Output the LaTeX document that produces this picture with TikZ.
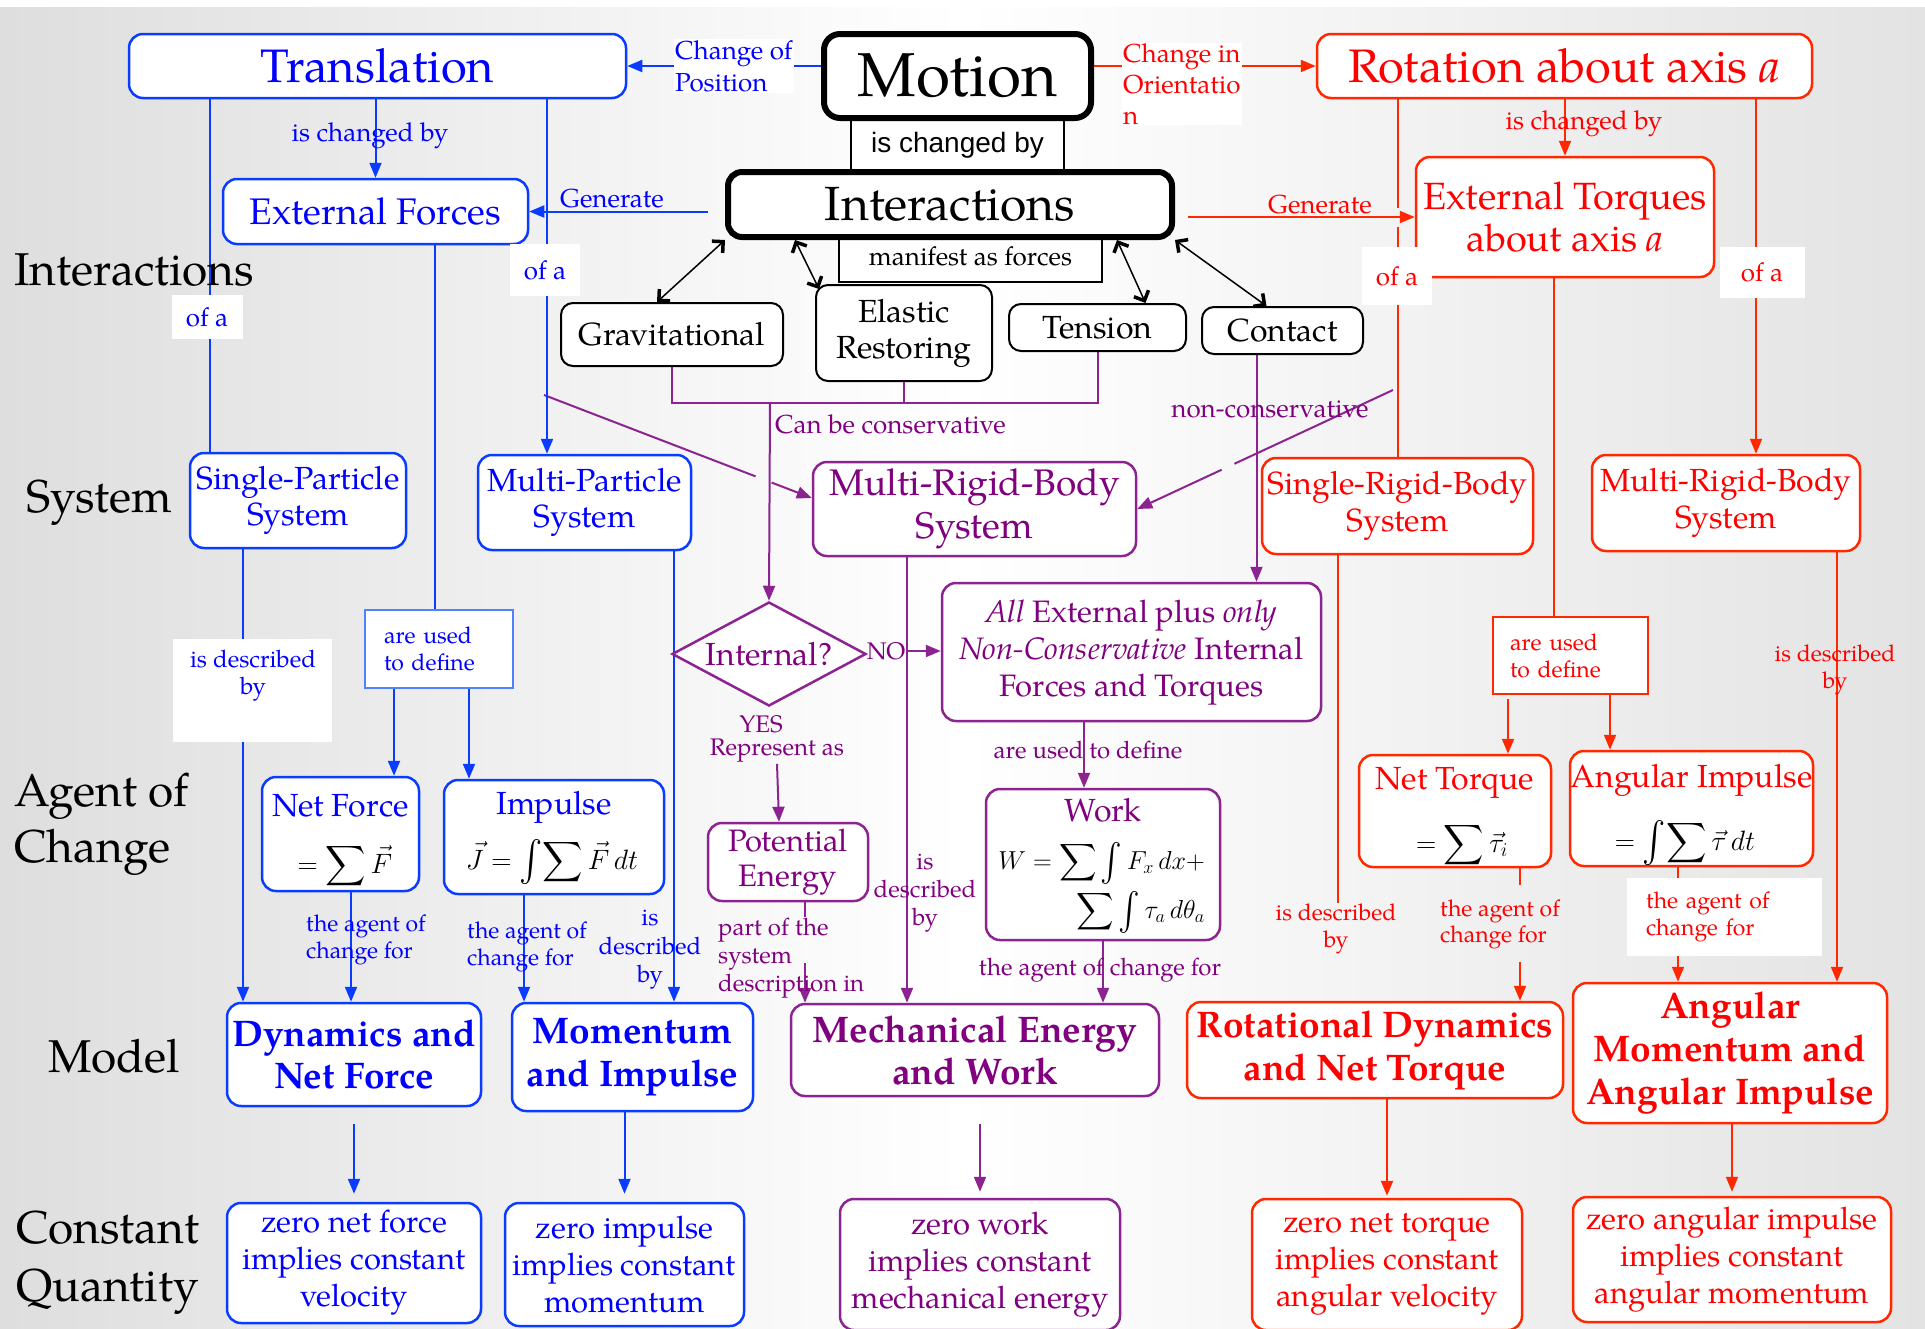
\RequirePackage{fix-cm}
\documentclass[tikz,border=0pt]{standalone}
\usepackage{amsmath}
\usepackage{graphicx}
\usepackage{fontspec}
\setmainfont{texgyrepagella}[Extension=.otf,UprightFont=*-regular,BoldFont=*-bold,ItalicFont=*-italic,BoldItalicFont=*-bolditalic]
\newfontfamily\arialf{Liberation Sans}
\usetikzlibrary{arrows.meta,shapes.geometric,calc}
\DeclareFontShape{OMX}{cmex}{m}{n}{<->cmex10}{}
\definecolor{bT}{RGB}{0,0,255}
\definecolor{bL}{RGB}{10,60,255}
\definecolor{bLL}{RGB}{80,130,255}
\definecolor{rT}{RGB}{255,0,0}
\definecolor{rL}{RGB}{255,40,0}
\definecolor{pT}{RGB}{128,0,128}
\definecolor{pL}{RGB}{140,35,145}
\newcommand{\fsz}[2]{\fontsize{#1}{#2}\selectfont}
\newcommand{\bint}{\mathop{\vcenter{\hbox{\scalebox{1.25}[1.45]{$\textstyle\int$}}}}\nolimits}
\pgfdeclarelayer{back}
\pgfdeclarelayer{lines}
\pgfsetlayers{back,lines,main}
\begin{document}
\begin{tikzpicture}[x=1pt,y=-1pt,
  box/.style={draw, rounded corners=14pt, line width=2.5pt, fill=white, align=center, inner sep=0pt},
  bluebox/.style={box, draw=bL, text=bT},
  redbox/.style={box, draw=rL, text=rT},
  purplebox/.style={box, draw=pL, text=pT},
  blackbox/.style={box, draw=black, text=black},
  sz/.style 2 args={minimum width=#1, minimum height=#2},
  lab/.style={inner sep=1pt, align=center},
  arr/.style={-{Triangle[length=15pt,width=12pt]}},
  bline/.style={draw=bL, line width=2pt},
  rline/.style={draw=rL, line width=2pt},
  pline/.style={draw=pL, line width=2pt},
  dbl/.style={draw=black, line width=1.5pt, {Straight Barb[length=8pt,width=16pt,line width=3.5pt]}-{Straight Barb[length=8pt,width=16pt,line width=3.5pt]}}
]
\useasboundingbox (0,0) rectangle (1925,1328);
\begin{pgfonlayer}{back}
\fill[white] (0,0) rectangle (1925,1328);
\shade[left color=black!13, right color=black!11, middle color=white] (0,7) rectangle (1925,1328);
\end{pgfonlayer}

% ---------- row labels
\node[lab, anchor=west, font=\fsz{46}{56}] (rlInt) at (13,270) {Interactions};
\node[lab, anchor=west, font=\fsz{46}{56}] (rlSys) at (25,503) {System};
\node[lab, anchor=west, align=left, font=\fsz{46}{56}] (rlAg) at (13,824) {Agent of\\Change};
\node[lab, anchor=west, font=\fsz{46}{56}] (rlMod) at (47,1056) {Model};
\node[lab, anchor=west, align=left, font=\fsz{46}{58}] (rlCQ) at (15,1263) {Constant\\Quantity};

% ---------- top
\node[draw, line width=1.5pt, fill=white, sz={213}{54}, inner sep=0pt, font=\arialf\fsz{28}{32}] (mcb) at (957.5,145) {is changed by};
\node[draw, line width=1.8pt, fill=white, sz={263}{51}, inner sep=0pt, font=\fsz{26}{30}] (manif) at (970.5,256.5) {manifest as forces};
\node[blackbox, line width=6pt, rounded corners=16pt, sz={267}{84}, font=\fsz{62}{70}] (Motion) at (957.5,76) {Motion};
\node[blackbox, line width=6pt, rounded corners=14pt, sz={444}{65}, font=\fsz{48}{54}] (Inter) at (950,204.5) {Interactions};
\node[bluebox, sz={497}{64}, font=\fsz{47}{52}] (Trans) at (377.5,66) {Translation};
\node[redbox, sz={495}{64}, font=\fsz{47}{52}] (RotAx) at (1564.5,66) {Rotation about axis \textit{a}};
\node[lab, fill=white, text=bT, align=left, anchor=west, font=\fsz{26}{32}] (chPos) at (674,66) {Change of\\Position};
\node[lab, fill=white, text=rT, align=left, anchor=west, font=\fsz{26}{31}] (chOr) at (1122,84) {Change in\\Orientatio\\n};

\node[bluebox, sz={305}{65}, font=\fsz{37}{42}] (ExtF) at (375.5,211.5) {External Forces};
\node[redbox, sz={298}{120}, font=\fsz{38}{42}] (ExtT) at (1565,217) {External Torques\\about axis \textit{a}};
\node[lab, text=bT, font=\fsz{26}{30}] (bchg) at (370,136) {is changed by};
\node[lab, text=rT, font=\fsz{26}{30}] (rchg) at (1584,124) {is changed by};
\node[lab, text=bT, font=\fsz{26}{30}] (genBl) at (612,199) {Generate};
\node[lab, text=rT, font=\fsz{26}{30}] (genRl) at (1320,205) {Generate};
\coordinate (genB) at (708,211.5);
\coordinate (genR) at (1188,217);

\node[lab, fill=white, text=bT, sz={71}{44}, font=\fsz{26}{30}] (ofa1) at (207,317) {of a};
\node[lab, fill=white, text=bT, sz={70}{52}, font=\fsz{26}{30}] (ofa2) at (545,270) {of a};
\node[lab, fill=white, text=rT, sz={70}{58}, font=\fsz{26}{30}] (ofa3) at (1397,276) {of a};
\node[lab, fill=white, text=rT, sz={85}{51}, font=\fsz{26}{30}] (ofa4) at (1762,272) {of a};

% ---------- interaction kinds
\node[blackbox, line width=2pt, rounded corners=12pt, sz={222}{63}, font=\fsz{32}{36}] (Grav) at (672,334.5) {Gravitational};
\node[blackbox, line width=2pt, rounded corners=12pt, sz={176}{96}, font=\fsz{32}{36}] (Elas) at (904,333) {Elastic\\Restoring};
\node[blackbox, line width=2pt, rounded corners=12pt, sz={177}{47}, font=\fsz{32}{36}] (Tens) at (1097.5,327.5) {Tension};
\node[blackbox, line width=2pt, rounded corners=12pt, sz={161}{47}, font=\fsz{32}{36}] (Cont) at (1282.5,330.5) {Contact};
\coordinate (brk) at (770,402);
\node[lab, text=pT, anchor=west, font=\fsz{26}{30}] (canbe) at (774,424) {Can be conservative};
\node[lab, text=pT, font=\fsz{26}{30}] (noncons) at (1270,409) {non-conservative};
\coordinate (dgR) at (1393,390);
\coordinate (dgL) at (544,395);

% ---------- systems
\node[bluebox, sz={216}{95}, font=\fsz{32}{36}] (SP) at (298,500.5) {Single-Particle\\System};
\node[bluebox, sz={213}{95}, font=\fsz{32}{36}] (MP) at (584.5,502.5) {Multi-Particle\\System};
\node[purplebox, sz={323}{94}, font=\fsz{37}{43}] (MRB) at (974.5,509) {Multi-Rigid-Body\\System};
\node[redbox, sz={271}{96}, font=\fsz{32}{37}] (SRB) at (1397.5,506) {Single-Rigid-Body\\System};
\node[redbox, sz={268}{96}, font=\fsz{32}{37}] (MRBr) at (1726,503) {Multi-Rigid-Body\\System};

% ---------- are used to define
\node[draw=bLL, line width=2pt, fill=white, sz={148}{78}, inner sep=0pt, text=bT, align=left, text width=110, font=\fsz{23}{27}] (AreB) at (439,649) {are used\\to define};
\node[draw=rL, line width=2pt, fill=white, sz={155}{77}, inner sep=0pt, text=rT, align=left, text width=121, font=\fsz{23}{27}] (AreR) at (1570.5,655.5) {are used\\to define};
\node[fill=white, sz={159}{103}] (descBbg) at (252,690) {};
\node[lab, text=bT, font=\fsz{24}{27}] (descB) at (253,676) {is described\\by};

% ---------- internal?
\node[diamond, draw=pL, line width=2.5pt, fill=white, aspect=1.87, sz={194}{104}, inner sep=0pt, text=pT, font=\fsz{32}{36}] (Intq) at (769,654) {Internal?};
\node[lab, text=pT, font=\fsz{24}{28}] (NO) at (886,651) {NO};
\node[lab, text=pT, font=\fsz{24}{28}] (YES) at (761,724) {YES};
\node[lab, text=pT, font=\fsz{24}{28}] (Rep) at (777,751) {Represent as};
\node[purplebox, sz={379}{138}, font=\fsz{31}{37}] (AllE) at (1131.5,652) {\textit{All} External plus \textit{only}\\\textit{Non-Conservative} Internal\\Forces and Torques};
\node[lab, text=pT, font=\fsz{24}{28}] (aredef) at (1088,750) {are used to define};

% ---------- agents of change
\node[bluebox, sz={157}{114}] (NF) at (340.5,834) {};
\node[lab, text=bT, font=\fsz{32}{36}] (NFt) at (340.5,806) {Net Force};
\node[lab, text=black, font=\fsz{28}{34}] (NFf) at (345,866) {$=\displaystyle\sum\vec F$};
\node[bluebox, sz={220}{114}] (Imp) at (554,837) {};
\node[lab, text=bT, font=\fsz{32}{36}] (Impt) at (554,807) {Impulse};
\node[lab, text=black, font=\fsz{28}{34}] (Impf) at (552,862) {$\vec J=\bint\!\displaystyle\sum\vec F\,dt$};
\node[purplebox, sz={160}{78}, font=\fsz{31}{35}] (PE) at (788,862) {Potential\\Energy};
\node[purplebox, sz={234}{151}] (Work) at (1103,864.5) {};
\node[lab, text=pT, font=\fsz{32}{36}] (WorkT) at (1103,810) {Work};
\node[lab, text=black, anchor=east, font=\fsz{26}{32}] (WorkF1) at (1206,863) {$W=\displaystyle\sum\bint F_x\,dx+$};
\node[lab, text=black, anchor=east, font=\fsz{26}{32}] (WorkF2) at (1206,912) {$\displaystyle\sum\bint\tau_a\,d\theta_a$};
\node[redbox, sz={192}{112}] (NT) at (1455,811) {};
\node[lab, text=rT, font=\fsz{32}{36}] (NTt) at (1455,783) {Net Torque};
\node[lab, text=black, font=\fsz{28}{34}] (NTf) at (1462,845) {$=\displaystyle\sum\vec\tau_i$};
\node[redbox, sz={243}{115}] (AI) at (1691.5,808.5) {};
\node[lab, text=rT, font=\fsz{32}{36}] (AIt) at (1691.5,780) {Angular Impulse};
\node[lab, text=black, font=\fsz{28}{34}] (AIf) at (1685,843) {$=\bint\!\displaystyle\sum\vec\tau\,dt$};

% ---------- link labels
\node[lab, text=bT, align=left, anchor=west, font=\fsz{23}{27}] (agB1) at (305,940) {the agent of\\change for};
\node[lab, text=bT, align=left, anchor=west, font=\fsz{23}{27}] (agB2) at (466,947) {the agent of\\change for};
\node[lab, text=bT, font=\fsz{24}{28.5}] (descB2) at (650,950) {is\\described\\by};
\node[lab, text=pT, font=\fsz{24}{28}] (descP) at (925,893) {is\\described\\by};
\node[lab, text=pT, align=left, anchor=west, font=\fsz{24}{28}] (partof) at (717,958) {part of the\\system\\description in};
\coordinate (pe2) at (805,963);
\node[lab, text=pT, font=\fsz{24}{28}] (agentP) at (1100,970) {the agent of change for};
\node[lab, text=rT, font=\fsz{23}{27}] (descR) at (1336,929) {is described\\by};
\node[lab, text=rT, align=left, anchor=west, font=\fsz{23}{26}] (agR1) at (1439,924) {the agent of\\change for};
\coordinate (agR1b) at (1520,962);
\node[lab, fill=white, text=rT, align=left, text width=157, minimum width=195, minimum height=78, font=\fsz{23}{27}] (agR2) at (1724.5,917) {the agent of\\change for};
\node[lab, text=rT, font=\fsz{23}{27}] (descR2) at (1835,670) {is described\\by};

% ---------- models
\node[bluebox, sz={254}{103}, font=\bfseries\fsz{37}{42}] (Dyn) at (354,1054.5) {Dynamics and\\Net Force};
\node[bluebox, sz={241}{108}, font=\bfseries\fsz{37}{43}] (Mom) at (632.5,1057) {Momentum\\and Impulse};
\node[purplebox, sz={368}{92}, font=\bfseries\fsz{37}{42}] (Mech) at (975,1050) {Mechanical Energy\\and Work};
\node[redbox, sz={376}{96}, font=\bfseries\fsz{37}{43}] (RotDyn) at (1375,1050) {Rotational Dynamics\\and Net Torque};
\node[redbox, sz={314}{140}, font=\bfseries\fsz{37}{43}] (AngMom) at (1730,1053) {Angular\\Momentum and\\Angular Impulse};

% ---------- constant quantities
\node[bluebox, sz={254}{120}, font=\fsz{31}{37}] (CDyn) at (354,1263) {zero net force\\implies constant\\velocity};
\node[bluebox, sz={239}{123}, font=\fsz{31}{37}] (CMom) at (624.5,1264.5) {zero impulse\\implies constant\\momentum};
\node[purplebox, sz={280}{131}, font=\fsz{31}{37}] (CMech) at (980,1264.5) {zero work\\implies constant\\mechanical energy};
\node[redbox, sz={270}{131}, font=\fsz{31}{37}] (CRot) at (1387,1264.5) {zero net torque\\implies constant\\angular velocity};
\node[redbox, sz={318}{125}, font=\fsz{31}{37}] (CAng) at (1732,1259.5) {zero angular impulse\\implies constant\\angular momentum};

% ================= connectors
\begin{pgfonlayer}{lines}
\draw[bline, arr] (Motion.west |- Trans.east) -- (Trans.east);
\draw[rline, arr] (Motion.east |- RotAx.west) -- (RotAx.west);
\draw[bline, arr] (ExtF.north |- Trans.south) -- (ExtF.north);
\draw[rline, arr] (ExtT.north |- RotAx.south) -- (ExtT.north);
\draw[bline, arr] (genB) -- (ExtF.east);
\draw[rline, arr] (genR) -- (ExtT.west);

\draw[dbl] (Inter.south west) -- ([xshift=-15pt]Grav.north);
\draw[dbl] ([xshift=-155pt]Inter.south) -- ([xshift=4pt,yshift=-5pt]Elas.north west);
\draw[dbl] ([xshift=167pt]Inter.south) -- ([xshift=48pt]Tens.north);
\draw[dbl] (Inter.south east) -- ([xshift=-16pt]Cont.north);

\draw[pline] (Grav.south) -- ++(0,36) -| (Tens.south);
\draw[pline] (Elas.south) -- (Elas.south |- brk);
\draw[pline, arr] (brk) -- (Intq.north);
\draw[pline, arr] ([xshift=-26pt]Cont.south) -- ([xshift=-26pt]Cont.south |- AllE.north);
\draw[pline] (dgR) -- ($(dgR)!0.62!(MRB.east)$);
\draw[pline, arr] ($(dgR)!0.67!(MRB.east)$) -- (MRB.east);
\draw[pline] (dgL) -- ($(dgL)!0.79!([yshift=11pt]MRB.west)$);
\draw[pline, arr] ($(dgL)!0.85!([yshift=11pt]MRB.west)$) -- ([yshift=11pt]MRB.west);

\draw[bline] ([xshift=-88pt]SP.north |- Trans.south) -- ([xshift=-88pt]SP.north);
\draw[bline, arr] ([xshift=-37.5pt]MP.north |- Trans.south) -- ([xshift=-37.5pt]MP.north);
\draw[bline] ([xshift=59.5pt]ExtF.south) -- ([xshift=59.5pt]ExtF.south |- AreB.north);
\draw[rline] (SRB.north |- RotAx.south) -- ++(0,109);
\draw[rline] ($(SRB.north |- ExtT.west)+(0,10)$) -- (SRB.north);
\draw[rline, arr] ([xshift=30pt]MRBr.north |- RotAx.south) -- ([xshift=30pt]MRBr.north);
\draw[rline] ([xshift=-11pt]ExtT.south) -- ([xshift=-11pt]ExtT.south |- AreR.north);

\draw[bline, arr] ([xshift=-45pt]AreB.south) -- ([xshift=-45pt]AreB.south |- NF.north);
\draw[bline, arr] ([xshift=30pt]AreB.south) -- ([xshift=30pt]AreB.south |- Imp.north);
\draw[rline, arr] ([xshift=-62.5pt,yshift=-4pt]AreR.south) -- ([xshift=-62.5pt]AreR.south |- NT.north);
\draw[rline, arr] ([xshift=39.5pt]AreR.south) -- ([xshift=39.5pt]AreR.south |- AI.north);

\draw[bline, arr] ([xshift=-55pt]SP.south) -- ([xshift=-55pt]SP.south |- Dyn.north);
\draw[bline, arr] ([xshift=89.5pt]MP.south) -- ([xshift=89.5pt]MP.south |- Mom.north);
\draw[pline, arr] ([xshift=-67.5pt]MRB.south) -- ([xshift=-67.5pt]MRB.south |- Mech.north);

\draw[pline, arr] (NO.east) -- (NO.east -| AllE.west);
\draw[pline, arr] (Rep.south) -- ([xshift=-9pt]PE.north);
\draw[pline, arr] ([xshift=-47.5pt]AllE.south) -- ([xshift=-47.5pt]AllE.south |- Work.north);
\draw[pline] ([xshift=17pt]PE.south) -- ++(0,15);
\draw[pline, arr] (pe2) -- (pe2 |- Mech.north);
\draw[pline, arr] (Work.south) -- (Work.south |- Mech.north);

\draw[bline, arr] ([xshift=10.5pt]NF.south) -- ([xshift=10.5pt]NF.south |- Dyn.north);
\draw[bline, arr] ([xshift=-30pt]Imp.south) -- ([xshift=-30pt]Imp.south |- Mom.north);

\draw[rline] ([xshift=-59.5pt]SRB.south) -- ([xshift=-59.5pt]SRB.south |- descR.north);
\draw[rline] ([xshift=65pt]NT.south) -- ++(0,17);
\draw[rline, arr] (agR1b) -- (agR1b |- RotDyn.north);
\draw[rline, arr] ([xshift=-13.5pt]AI.south) -- ([xshift=-13.5pt]AI.south |- AngMom.north);
\draw[rline, arr] ([xshift=111pt]MRBr.south) -- ([xshift=111pt]MRBr.south |- AngMom.north);

\draw[bline, arr, shorten >=8pt] ($(CDyn.north |- Dyn.south)+(0,17)$) -- (CDyn.north);
\draw[bline, arr, shorten >=8pt] (CMom.north |- Mom.south) -- (CMom.north);
\draw[pline, arr, shorten >=6pt] ($(CMech.north |- Mech.south)+(0,27)$) -- (CMech.north);
\draw[rline, arr, shorten >=2pt] (CRot.north |- RotDyn.south) -- (CRot.north);
\draw[rline, arr, shorten >=4pt] (CAng.north |- AngMom.south) -- (CAng.north);
\end{pgfonlayer}
\end{tikzpicture}
\end{document}
